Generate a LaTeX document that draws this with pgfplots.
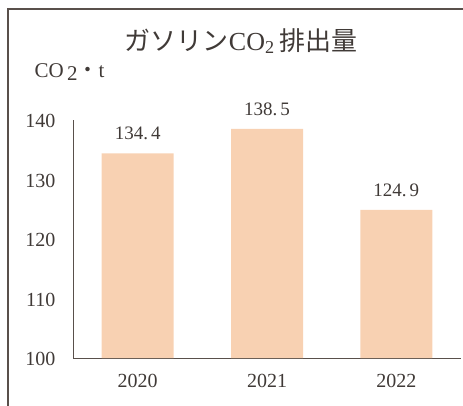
\documentclass[border=0pt]{standalone}
\usepackage{fontspec}
\setmainfont{Liberation Serif}
\newfontfamily\cjk{Noto Sans CJK JP}
\usepackage{pgfplots}
\pgfplotsset{compat=1.18}
\definecolor{barc}{RGB}{248,209,178}
\definecolor{axc}{RGB}{89,80,75}
\definecolor{txt}{RGB}{64,58,55}
\begin{document}
\begin{tikzpicture}[x=1pt,y=1pt]
\useasboundingbox (0,0) rectangle (463,405);
\draw[axc, line width=1.2pt] (8,-10) -- (8,396) -- (480,396);
\node[txt, font=\fontsize{26}{26}\selectfont] at (241,364) {{\cjk ガソリン}CO\textsubscript{2}\,{\cjk 排出量}};
\node[txt, anchor=west, font=\fontsize{21}{21}\selectfont] at (31,333) {CO\,\raisebox{-0.4ex}{2}{\cjk ・}t};
\begin{axis}[
  at={(73pt,47pt)}, anchor=south west,
  scale only axis, width=388pt, height=238pt,
  xmin=-0.5, xmax=2.5, ymin=100, ymax=140,
  axis x line=bottom, axis y line=left,
  axis line style={-, axc, line width=1pt},
  xtick=data, xticklabels={2020,2021,2022},
  ytick={100,110,...,140},
  major tick length=0pt,
  /pgf/number format/assume math mode=true,
  tick label style={txt, font=\fontsize{20}{20}\selectfont},
  yticklabel style={xshift=-14pt, yshift=-1pt},
  xticklabel style={yshift=-13pt},
  ybar, bar width=72pt,
  point meta=explicit symbolic,
  nodes near coords,
  nodes near coords style={txt, font=\fontsize{19}{19}\selectfont, yshift=10pt},
]
\addplot[fill=barc, draw=none] coordinates {(0,134.4) [134.\hspace{3pt}4] (1,138.5) [138.\hspace{3pt}5] (2,124.9) [124.\hspace{3pt}9]};
\end{axis}
\end{tikzpicture}
\end{document}
